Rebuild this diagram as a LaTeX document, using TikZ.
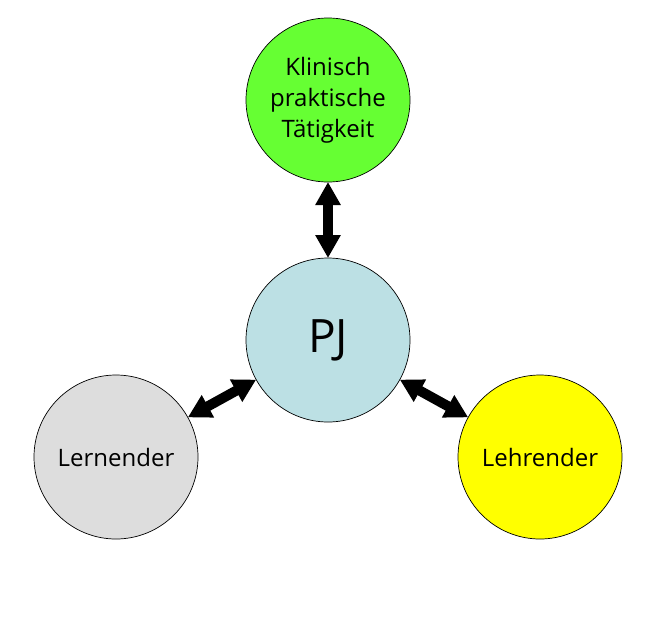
\documentclass[tikz,border=0pt]{standalone}
\usepackage{fontspec}
\setmainfont{Open Sans}
\usetikzlibrary{arrows.meta}
\definecolor{cgreen}{HTML}{66FF33}
\definecolor{cblue}{HTML}{BCE0E4}
\definecolor{cgray}{HTML}{DDDDDD}
\definecolor{cyellow}{HTML}{FFFF00}
\tikzset{
  bub/.style={circle, draw=black, line width=0.7pt, minimum size=164pt, inner sep=0pt, outer sep=0pt, align=center, font=\fontsize{24}{31}\selectfont},
  dbl/.style={{Triangle[width=24pt 0,length=23pt 0]}-{Triangle[width=24pt 0,length=23pt 0]}, line width=10pt}
}
\begin{document}
\begin{tikzpicture}[x=1pt,y=-1pt]
\useasboundingbox (0,0) rectangle (653,635);
\node[bub, fill=cgreen] (top) at (328,100) {Klinisch\\praktische\\Tätigkeit};
\node[bub, fill=cblue, font=\fontsize{46}{50}\selectfont] (pj) at (328,340) {PJ};
\node[bub, fill=cgray] (lern) at (116,457) {Lernender};
\node[bub, fill=cyellow] (lehr) at (540,457) {Lehrender};
\draw[dbl] (top) -- (pj);
\draw[dbl] (lern) -- (pj);
\draw[dbl] (pj) -- (lehr);
\end{tikzpicture}
\end{document}
